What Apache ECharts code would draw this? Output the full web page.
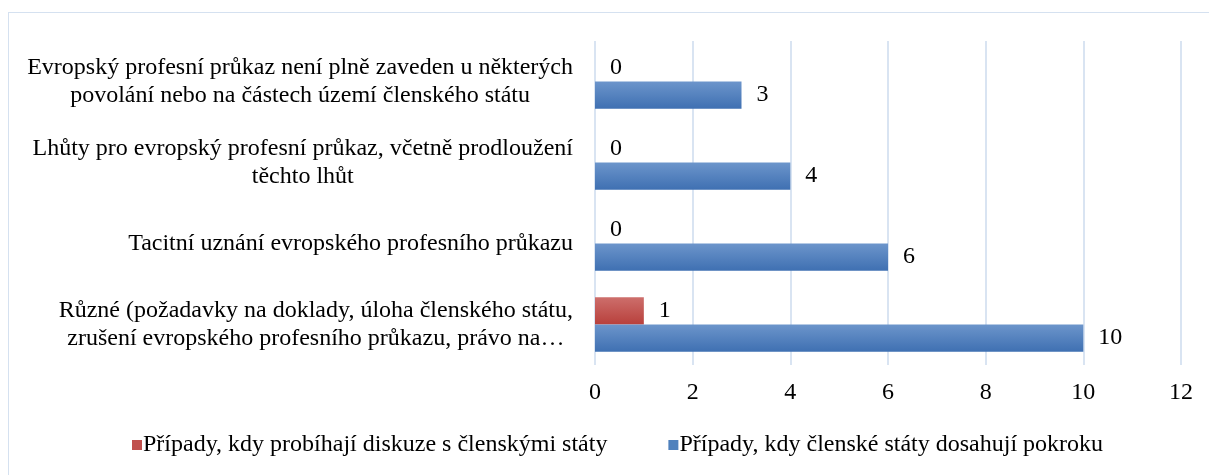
<!DOCTYPE html>
<html><head><meta charset="utf-8">
<script src="https://cdn.jsdelivr.net/npm/echarts@6/dist/echarts.min.js"></script>
<style>
html,body{margin:0;padding:0;background:#fff;}
#frame{position:absolute;left:8px;top:12px;width:1220px;height:480px;border:1px solid #d5e1f0;box-sizing:border-box;}
#c{position:absolute;left:0;top:0;width:1209px;height:475px;}
</style></head>
<body><div id="frame"></div><div id="c"></div>
<script>
const categories = [
  'Evropský profesní průkaz není plně zaveden u některých\npovolání nebo na částech území členského státu',
  'Lhůty pro evropský profesní průkaz, včetně prodloužení\ntěchto lhůt',
  'Tacitní uznání evropského profesního průkazu',
  'Různé (požadavky na doklady, úloha členského státu,\nzrušení evropského profesního průkazu, právo na…'
];
const seriesNames = ['Případy, kdy probíhají diskuze s členskými státy', 'Případy, kdy členské státy dosahují pokroku'];
const discussionValues = [0, 0, 0, 1];
const progressValues = [3, 4, 6, 10];
const xTicks = [0, 2, 4, 6, 8, 10, 12];

const FONT = 'Liberation Serif';
const FS = 24;
const chart = echarts.init(document.getElementById('c'));
const redGrad = new echarts.graphic.LinearGradient(0,0,0,1,[{offset:0,color:'#cd6e6b'},{offset:1,color:'#b8403c'}]);
const blueGrad = new echarts.graphic.LinearGradient(0,0,0,1,[{offset:0,color:'#6c95cb'},{offset:1,color:'#3f70b2'}]);
const labelStyle = {show:true, position:'right', distance:15, color:'#000', fontFamily:FONT, fontSize:FS};
chart.setOption({
  animation:false,
  textStyle:{fontFamily:FONT},
  grid:{left:595, right:28, top:41, bottom:110},
  legend:{
    left:127, top:428, itemWidth:10, itemHeight:10, itemGap:61,
    icon:'rect',
    textStyle:{fontFamily:FONT, fontSize:FS, color:'#000', padding:[0,0,0,-4]},
    data:[
      {name:seriesNames[0], itemStyle:{color:'#c0504d'}},
      {name:seriesNames[1], itemStyle:{color:'#4f81bd'}}
    ]
  },
  xAxis:{
    type:'value', min:xTicks[0], max:xTicks[xTicks.length-1], interval:2,
    axisLine:{show:false}, axisTick:{show:false},
    splitLine:{show:true, lineStyle:{color:'#d9e4f2', width:2}},
    axisLabel:{fontFamily:FONT, fontSize:FS, color:'#000', margin:16}
  },
  yAxis:{
    type:'category', inverse:true, data:categories,
    axisLine:{show:false}, axisTick:{show:false},
    axisLabel:{
      fontFamily:FONT, fontSize:FS, color:'#000', margin:22, lineHeight:28,
      formatter:function(v){return v.split('\n').map(function(l){return '{c|'+l+'}';}).join('\n');},
      rich:{c:{align:'center', fontFamily:FONT, fontSize:FS, color:'#000', lineHeight:28}}
    }
  },
  series:[
    {name:seriesNames[0], type:'bar', data:discussionValues, barGap:'0%', barCategoryGap:'33%',
     itemStyle:{color:redGrad}, label:labelStyle},
    {name:seriesNames[1], type:'bar', data:progressValues, barGap:'0%', barCategoryGap:'33%',
     itemStyle:{color:blueGrad}, label:labelStyle}
  ]
});
</script></body></html>
